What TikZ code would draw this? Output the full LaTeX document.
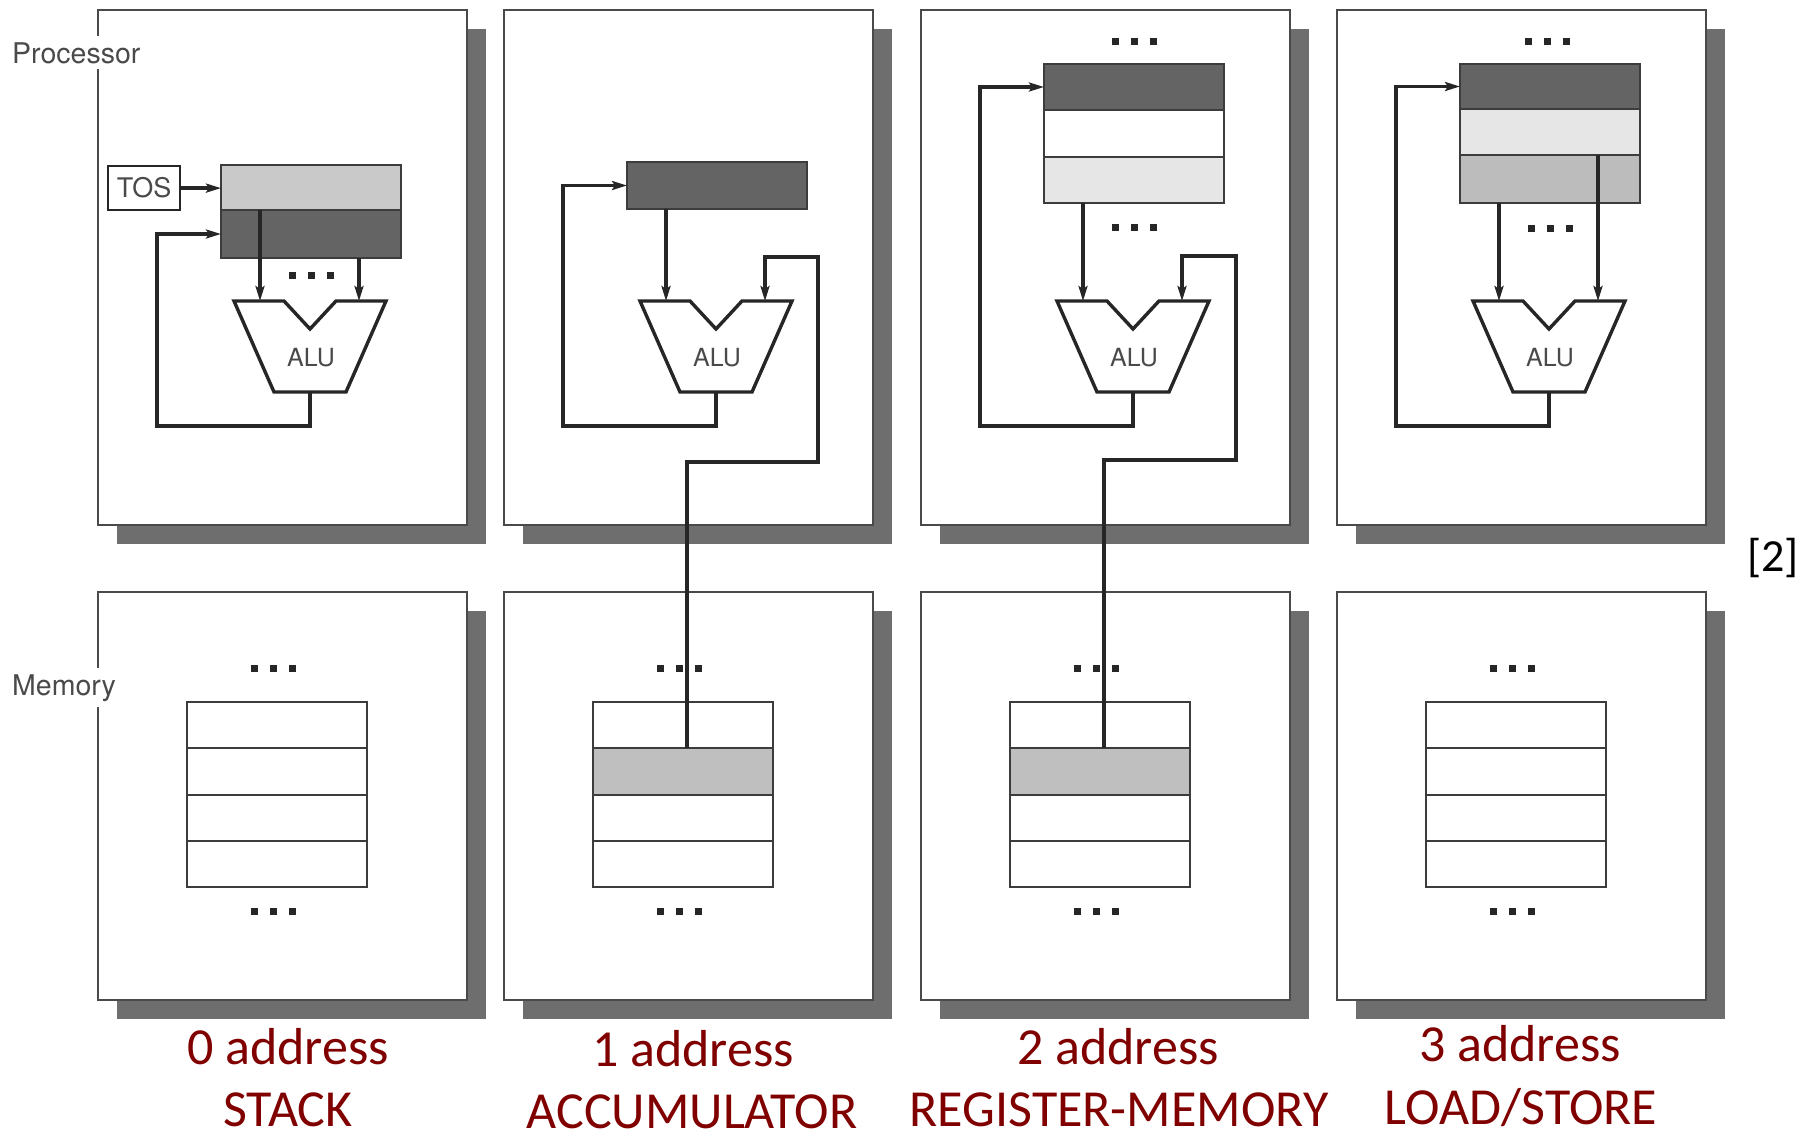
\documentclass[tikz,border=0pt]{standalone}
\usepackage{fontspec}
\newfontfamily\figfont{TeX Gyre Heros}
\newfontfamily\capfont{Carlito}
\usetikzlibrary{arrows.meta,shadows,calc}

\definecolor{shade}{HTML}{6E6E6E}
\definecolor{regdark}{HTML}{646464}
\definecolor{reglight}{HTML}{C9C9C9}
\definecolor{regpale}{HTML}{E6E6E6}
\definecolor{regmid}{HTML}{BCBCBC}
\definecolor{memgray}{HTML}{BFBFBF}
\definecolor{wirec}{HTML}{262626}
\definecolor{framec}{HTML}{4A4A4A}
\definecolor{captionred}{HTML}{800000}
\definecolor{tagtext}{HTML}{4A4A4A}

\tikzset{
  panel/.style={draw=framec, line width=2.2pt, fill=white, anchor=north west,
    minimum width=369pt, inner sep=0pt,
    general shadow={fill=shade, shadow xshift=19pt, shadow yshift=-19pt}},
  procpanel/.style={panel, minimum height=515pt},
  mempanel/.style={panel, minimum height=408pt},
  cell/.style={draw=wirec!90, line width=2pt, anchor=north west,
    minimum width=180pt, inner sep=0pt, outer sep=0pt},
  wire/.style={draw=wirec, line width=3.4pt, line join=miter},
  feed/.style={wire, -{Stealth[length=15pt,width=9pt,inset=3pt]}},
  unitname/.style={font=\figfont\fontsize{28.5}{30}\selectfont, text=tagtext,
    fill=white, inner xsep=2pt, inner ysep=6pt, anchor=base west},
  tosbox/.style={draw=wirec, line width=2.2pt, fill=white, anchor=north west,
    minimum width=72pt, minimum height=44pt, inner sep=0pt,
    font=\figfont\fontsize{27}{28}\selectfont, text=tagtext},
  caption/.style={font=\capfont\fontsize{52}{60}\selectfont, text=captionred,
    anchor=base, inner sep=0pt},
  dots/.pic={\foreach \d in {-19,0,19}
      \fill[wirec] ({\d-3.5},-3.5) rectangle ({\d+3.5},3.5);},
  alu/.pic={
    \draw[wire, fill=white] (-76,0) -- (-26,0) -- (0,28) -- (26,0) -- (76,0)
      -- (36,91) -- (-36,91) -- cycle;
    \node[font=\figfont\fontsize{25}{25}\selectfont, text=tagtext] at (1,57) {ALU};
    \coordinate (-inl) at (-50,0);
    \coordinate (-inr) at (49,0);
    \coordinate (-out) at (0,91);
  }
}

\begin{document}
\begin{tikzpicture}[x=1pt,y=-1pt]
\useasboundingbox (0,0) rectangle (1811,1138);

% ---------- processor, stack machine ----------
\begin{scope}[shift={(97,0)}]
  \node[procpanel] (proc0) at (0,9) {};
  \node[cell, fill=reglight, minimum height=45pt] (top0) at (124,165) {};
  \node[cell, fill=regdark, minimum height=48pt] (next0) at (124,210) {};
  \node[tosbox] (tos) at (10,165) {TOS};
  \pic at (214,275) {dots};
  \pic (alu0) at (213,301) {alu};
  \coordinate (loop0) at (60,426);
\end{scope}

% ---------- processor, accumulator machine ----------
\begin{scope}[shift={(503,0)}]
  \node[procpanel] (proc1) at (0,9) {};
  \node[cell, fill=regdark, minimum height=47pt] (acc1) at (124,162) {};
  \pic (alu1) at (213,301) {alu};
  \coordinate (loop1) at (60,426);
  \coordinate (tap1) at (184,462);
  \coordinate (bus1a) at (315,462);
  \coordinate (bus1b) at (315,257);
\end{scope}

% ---------- processor, register-memory machine ----------
\begin{scope}[shift={(920,0)}]
  \node[procpanel] (proc2) at (0,9) {};
  \pic at (214,41) {dots};
  \node[cell, fill=regdark, minimum height=46pt] (ra2) at (124,64) {};
  \node[cell, fill=white, minimum height=47pt] (rb2) at (124,110) {};
  \node[cell, fill=regpale, minimum height=46pt] (rc2) at (124,157) {};
  \pic at (214,227) {dots};
  \pic (alu2) at (213,301) {alu};
  \coordinate (loop2) at (60,426);
  \coordinate (tap2) at (184,460);
  \coordinate (bus2a) at (316,460);
  \coordinate (bus2b) at (316,256);
\end{scope}

% ---------- processor, load/store machine ----------
\begin{scope}[shift={(1336,0)}]
  \node[procpanel] (proc3) at (0,9) {};
  \pic at (211,41) {dots};
  \node[cell, fill=regdark, minimum height=45pt] (ra3) at (124,64) {};
  \node[cell, fill=regpale, minimum height=46pt] (rb3) at (124,109) {};
  \node[cell, fill=regmid, minimum height=48pt] (rc3) at (124,155) {};
  \pic at (214,228) {dots};
  \pic (alu3) at (213,301) {alu};
  \coordinate (loop3) at (60,426);
\end{scope}

% ---------- memories ----------
\foreach \i/\px/\hl in {0/97/0, 1/503/2, 2/920/2, 3/1336/0} {
  \begin{scope}[shift={(\px,0)}]
    \node[mempanel] (mem\i) at (0,591) {};
    \pic at (176,668) {dots};
    \foreach \r in {1,...,4} {
      \ifnum\r=\hl \def\rowcol{memgray}\else \def\rowcol{white}\fi
      \node[cell, fill=\rowcol, minimum height=46.3pt] (mem\i-\r)
        at (90,{702+46.3*(\r-1)}) {};
    }
    \pic at (176,911) {dots};
  \end{scope}
}

% ---------- side labels ----------
\node[unitname] (plabel) at (10,63) {Processor};
\node[unitname] (mlabel) at (10,695) {Memory};

% ---------- data paths ----------
\draw[feed] (tos.east) -- (tos.east -| top0.west);
\draw[feed] (top0.south -| alu0-inl) -- (alu0-inl);
\draw[feed] (next0.south -| alu0-inr) -- (alu0-inr);
\draw[feed] (alu0-out) |- (loop0) |- (next0.west);

\draw[feed] (acc1.south -| alu1-inl) -- (alu1-inl);
\draw[feed] (alu1-out) |- (loop1) |- (acc1.west);
\draw[feed] (mem1-2.north -| tap1) -- (tap1) -- (bus1a) -- (bus1b) -| (alu1-inr);

\draw[feed] (rc2.south -| alu2-inl) -- (alu2-inl);
\draw[feed] (alu2-out) |- (loop2) |- (ra2.west);
\draw[feed] (mem2-2.north -| tap2) -- (tap2) -- (bus2a) -- (bus2b) -| (alu2-inr);

\draw[feed] (rc3.south -| alu3-inl) -- (alu3-inl);
\draw[feed] (rc3.north -| alu3-inr) -- (alu3-inr);
\draw[feed] (alu3-out) |- (loop3) |- (ra3.west);

% ---------- captions ----------
\node[caption] (c0a) at (288,1064) {0 address};
\node[caption] (c0b) at (288,1126) {STACK};
\node[caption] (c1a) at (693,1066) {1 address};
\node[caption] (c1b) at (692,1128) {ACCUMULATOR};
\node[caption] (c2a) at (1118,1064) {2 address};
\node[caption] (c2b) at (1119,1126) {REGISTER-MEMORY};
\node[caption] (c3a) at (1520,1061) {3 address};
\node[caption] (c3b) at (1521,1124) {LOAD/STORE};
\node[font=\capfont\fontsize{46}{50}\selectfont, anchor=base, inner sep=0pt] (cite) at (1773,571) {[2]};
\end{tikzpicture}
\end{document}
